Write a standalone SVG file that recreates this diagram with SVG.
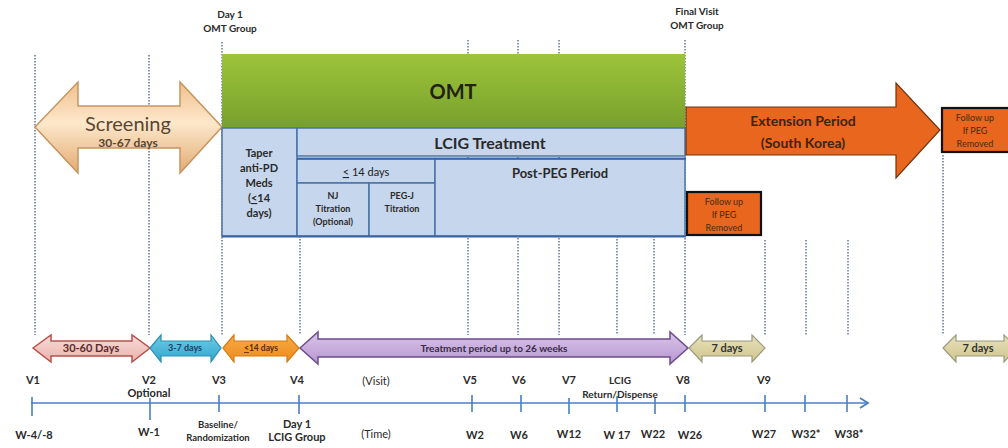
<svg xmlns="http://www.w3.org/2000/svg" width="1008" height="448" viewBox="0 0 1008 448">
<defs>
<style>
text{font-family:Lato,"Liberation Sans",sans-serif;fill:#2a2a2a;font-weight:bold;text-anchor:middle}
.guide{stroke:#6f80a8;stroke-width:1.6;stroke-dasharray:1.5 1.5;fill:none}
.cell{fill:#c6d6ec;stroke:#4a73a8;stroke-width:1.5}
.fu{fill:#e8661d;stroke:#111;stroke-width:2.2}
.fut{font-size:9px;font-weight:normal;fill:#4a2a10}
.ax{font-size:11px}
.tick{stroke:#4a7fc0;stroke-width:1.6}
</style>
<linearGradient id="gGreen" x1="0" y1="0" x2="0" y2="1"><stop offset="0" stop-color="#9dc43a"/><stop offset="1" stop-color="#77a02c"/></linearGradient>
<linearGradient id="gPeach" x1="0" y1="0" x2="0" y2="1"><stop offset="0" stop-color="#efc08c"/><stop offset="0.45" stop-color="#fde8cc"/><stop offset="1" stop-color="#e2ab72"/></linearGradient>
<linearGradient id="gPink" x1="0" y1="0" x2="0" y2="1"><stop offset="0" stop-color="#f8dcd9"/><stop offset="1" stop-color="#eab1ab"/></linearGradient>
<linearGradient id="gBlue" x1="0" y1="0" x2="0" y2="1"><stop offset="0" stop-color="#6fcbe6"/><stop offset="1" stop-color="#2fa6cf"/></linearGradient>
<linearGradient id="gOrange" x1="0" y1="0" x2="0" y2="1"><stop offset="0" stop-color="#f7ac4a"/><stop offset="1" stop-color="#ee8a18"/></linearGradient>
<linearGradient id="gPurple" x1="0" y1="0" x2="0" y2="1"><stop offset="0" stop-color="#dac6e8"/><stop offset="1" stop-color="#b796d0"/></linearGradient>
<linearGradient id="gTan" x1="0" y1="0" x2="0" y2="1"><stop offset="0" stop-color="#e8e2bc"/><stop offset="1" stop-color="#cfc48a"/></linearGradient>
<marker id="axArrow" markerWidth="12" markerHeight="12" refX="9" refY="6" orient="auto" markerUnits="userSpaceOnUse"><path d="M1,1 L9,6 L1,11" fill="none" stroke="#4a7fc0" stroke-width="1.8"/></marker>
</defs>
<rect width="1008" height="448" fill="#fff"/>

<g id="guides">
<line class="guide" x1="35" y1="55" x2="35" y2="335"/>
<line class="guide" x1="149" y1="55" x2="149" y2="335"/>
<line class="guide" x1="222" y1="42" x2="222" y2="335"/>
<line class="guide" x1="300" y1="236" x2="300" y2="335"/>
<line class="guide" x1="468" y1="40" x2="468" y2="335"/>
<line class="guide" x1="518" y1="40" x2="518" y2="335"/>
<line class="guide" x1="559" y1="40" x2="559" y2="335"/>
<line class="guide" x1="617" y1="236" x2="617" y2="335"/>
<line class="guide" x1="654" y1="236" x2="654" y2="335"/>
<line class="guide" x1="685" y1="40" x2="685" y2="335"/>
<line class="guide" x1="765" y1="240" x2="765" y2="335"/>
<line class="guide" x1="806" y1="240" x2="806" y2="335"/>
<line class="guide" x1="848" y1="240" x2="848" y2="335"/>
<line class="guide" x1="943" y1="155" x2="943" y2="335"/>
</g>

<g id="top-labels">
<text x="230" y="18" font-size="10">Day 1</text>
<text x="230" y="32" font-size="10">OMT Group</text>
<text x="697" y="15" font-size="10">Final Visit</text>
<text x="697" y="29" font-size="10">OMT Group</text>
</g>

<g id="screening">
<path d="M35,127 L78,82 L78,106 L180,106 L180,82 L222,127 L180,173 L180,148 L78,148 L78,173 Z" fill="url(#gPeach)" stroke="#c8955e" stroke-width="1.5"/>
<text x="128" y="131" font-size="20" style="fill:#5a4630;font-weight:normal">Screening</text>
<text x="128" y="147" font-size="12" style="fill:#5a4630">30-67 days</text>
</g>

<g id="omt">
<rect x="222" y="54" width="463" height="74" fill="url(#gGreen)"/>
<text x="453" y="99" font-size="20" style="fill:#222214">OMT</text>
</g>

<g id="taper">
<rect class="cell" x="222" y="128" width="75" height="108"/>
<text x="259" y="157" font-size="11">Taper</text>
<text x="259" y="172" font-size="11">anti-PD</text>
<text x="259" y="187" font-size="11">Meds</text>
<text x="259" y="202" font-size="11">(<tspan text-decoration="underline">&lt;</tspan>14</text>
<text x="259" y="217" font-size="11">days)</text>
</g>

<g id="lcig-treatment">
<rect class="cell" x="297" y="128" width="388" height="28"/>
<text x="490" y="149" font-size="16">LCIG Treatment</text>
</g>

<g id="le14">
<rect class="cell" x="297" y="159" width="138" height="24"/>
<text x="366" y="176" font-size="11" style="font-weight:normal;fill:#222"><tspan text-decoration="underline">&lt;</tspan> 14 days</text>
</g>

<g id="nj">
<rect class="cell" x="297" y="183" width="72" height="53"/>
<text x="333" y="199" font-size="9">NJ</text>
<text x="333" y="212" font-size="9">Titration</text>
<text x="333" y="225" font-size="9">(Optional)</text>
</g>

<g id="pegj">
<rect class="cell" x="369" y="183" width="66" height="53"/>
<text x="402" y="199" font-size="9">PEG-J</text>
<text x="402" y="212" font-size="9">Titration</text>
</g>

<g id="post-peg">
<rect class="cell" x="435" y="159" width="250" height="77"/>
<text x="560" y="178" font-size="13">Post-PEG Period</text>
</g>
<line x1="297" y1="158.5" x2="686" y2="158.5" stroke="#3c64a0" stroke-width="2"/>
<line x1="222" y1="236.5" x2="686" y2="236.5" stroke="#3c64a0" stroke-width="2"/>

<g id="extension">
<path d="M686,107 L896,107 L896,83 L940,130 L896,178 L896,155 L686,155 Z" fill="#e8661d" stroke="#6b3510" stroke-width="1.2"/>
<text x="803" y="126" font-size="14" style="fill:#3e2410">Extension Period</text>
<text x="803" y="148" font-size="14" style="fill:#3e2410">(South Korea)</text>
</g>

<g id="followup-right">
<rect class="fu" x="942" y="108" width="70" height="44"/>
<text class="fut" x="975" y="121">Follow up</text>
<text class="fut" x="975" y="134">If PEG</text>
<text class="fut" x="975" y="147">Removed</text>
</g>

<g id="followup-low">
<rect class="fu" x="687" y="192" width="74" height="43"/>
<text class="fut" x="724" y="205">Follow up</text>
<text class="fut" x="724" y="218">If PEG</text>
<text class="fut" x="724" y="231">Removed</text>
</g>

<g id="arrow-30-60">
<path d="M33,348 L51,335 L51,341 L132,341 L132,335 L150,348 L132,362 L132,356 L51,356 L51,362 Z" fill="url(#gPink)" stroke="#b9504c" stroke-width="1.5"/>
<text x="91" y="352" font-size="11" style="fill:#5a2a2a">30-60 Days</text>
</g>
<g id="arrow-3-7">
<path d="M150,348 L161,335 L161,341 L211,341 L211,335 L221,348 L211,362 L211,356 L161,356 L161,362 Z" fill="url(#gBlue)" stroke="#2a8fb0" stroke-width="1.2"/>
<text x="185" y="351" font-size="9" style="fill:#1d3f66">3-7 days</text>
</g>
<g id="arrow-14">
<path d="M223,348 L234,335 L234,341 L287,341 L287,335 L299,348 L287,362 L287,356 L234,356 L234,362 Z" fill="url(#gOrange)" stroke="#d77a10" stroke-width="1.2"/>
<text x="261" y="351" font-size="8.5" style="fill:#5a2a00"><tspan text-decoration="underline">&lt;</tspan>14 days</text>
</g>
<g id="arrow-treatment">
<path d="M300,348 L318,332 L318,339 L670,339 L670,332 L688,348 L670,364 L670,357 L318,357 L318,364 Z" fill="url(#gPurple)" stroke="#6e4b8e" stroke-width="1.5"/>
<text x="494" y="352" font-size="10" style="fill:#3a2a4a">Treatment period  up to 26 weeks</text>
</g>
<g id="arrow-7a">
<path d="M689,348 L702,335 L702,341 L752,341 L752,335 L765,348 L752,362 L752,356 L702,356 L702,362 Z" fill="url(#gTan)" stroke="#9a9a80" stroke-width="1.2"/>
<text x="727" y="352" font-size="11" style="fill:#333">7 days</text>
</g>
<g id="arrow-7b">
<path d="M943,348 L956,335 L956,341 L1004,341 L1004,335 L1017,348 L1004,362 L1004,356 L956,356 L956,362 Z" fill="url(#gTan)" stroke="#9a9a80" stroke-width="1.2"/>
<text x="978" y="352" font-size="11" style="fill:#333">7 days</text>
</g>

<g id="connectors">
<line x1="31" y1="403" x2="868" y2="403" stroke="#4a7fc0" stroke-width="1.6" marker-end="url(#axArrow)"/>
<line class="tick" x1="32" y1="397" x2="32" y2="416"/>
<line class="tick" x1="150" y1="398" x2="150" y2="420"/>
<line class="tick" x1="219" y1="395" x2="219" y2="412"/>
<line class="tick" x1="299" y1="395" x2="299" y2="414"/>
<line class="tick" x1="472" y1="395" x2="472" y2="412"/>
<line class="tick" x1="521" y1="395" x2="521" y2="412"/>
<line class="tick" x1="569" y1="398" x2="569" y2="414"/>
<line class="tick" x1="617" y1="396" x2="617" y2="412"/>
<line class="tick" x1="655" y1="398" x2="655" y2="414"/>
<line class="tick" x1="685" y1="395" x2="685" y2="412"/>
<line class="tick" x1="765" y1="395" x2="765" y2="412"/>
<line class="tick" x1="805" y1="395" x2="805" y2="412"/>
<line class="tick" x1="847" y1="395" x2="847" y2="412"/>
</g>

<g id="visit-labels">
<text class="ax" x="33" y="384">V1</text>
<text class="ax" x="149" y="384">V2</text>
<text class="ax" x="149" y="397">Optional</text>
<text class="ax" x="219" y="384">V3</text>
<text class="ax" x="297" y="384">V4</text>
<text class="ax" x="376" y="385" style="font-weight:normal">(Visit)</text>
<text class="ax" x="470" y="384">V5</text>
<text class="ax" x="519" y="384">V6</text>
<text class="ax" x="569" y="384">V7</text>
<text class="ax" x="620" y="384" style="font-size:10px">LCIG</text>
<text class="ax" x="620" y="398" style="font-size:10px">Return/Dispense</text>
<text class="ax" x="683" y="384">V8</text>
<text class="ax" x="764" y="384">V9</text>
</g>

<g id="time-labels">
<text class="ax" x="34" y="439">W-4/-8</text>
<text class="ax" x="149" y="436">W-1</text>
<text class="ax" x="218" y="428" style="font-size:9.5px">Baseline/</text>
<text class="ax" x="218" y="441" style="font-size:9.5px">Randomization</text>
<text class="ax" x="297" y="428">Day 1</text>
<text class="ax" x="297" y="441">LCIG Group</text>
<text class="ax" x="376" y="438" style="font-weight:normal">(Time)</text>
<text class="ax" x="475" y="439">W2</text>
<text class="ax" x="519" y="439">W6</text>
<text class="ax" x="569" y="438">W12</text>
<text class="ax" x="617" y="439">W 17</text>
<text class="ax" x="653" y="438">W22</text>
<text class="ax" x="690" y="439">W26</text>
<text class="ax" x="764" y="438">W27</text>
<text class="ax" x="806" y="438">W32*</text>
<text class="ax" x="849" y="438">W38*</text>
</g>
</svg>
